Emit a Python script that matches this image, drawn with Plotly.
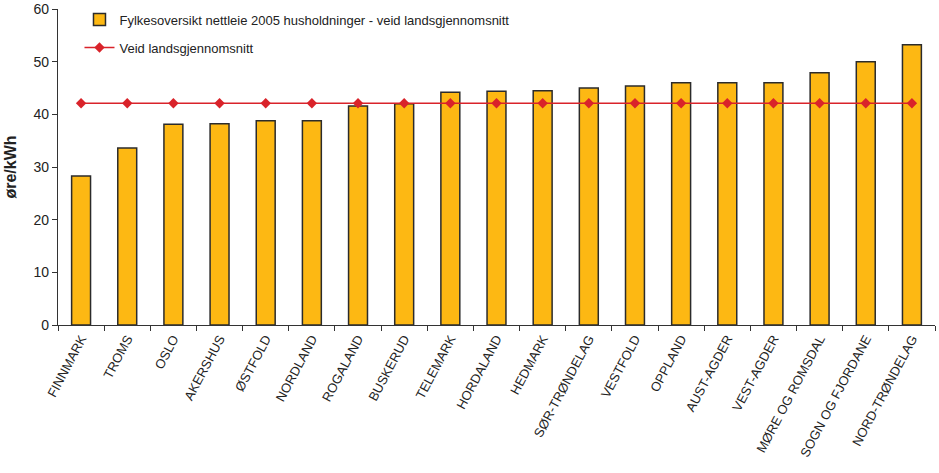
import plotly.graph_objects as go

categories = ["FINNMARK", "TROMS", "OSLO", "AKERSHUS", "ØSTFOLD", "NORDLAND", "ROGALAND",
              "BUSKERUD", "TELEMARK", "HORDALAND", "HEDMARK", "SØR-TRØNDELAG", "VESTFOLD",
              "OPPLAND", "AUST-AGDER", "VEST-AGDER", "MØRE OG ROMSDAL", "SOGN OG FJORDANE",
              "NORD-TRØNDELAG"]
nettleie = [28.3, 33.6, 38.1, 38.2, 38.8, 38.8, 41.6, 42.0, 44.2, 44.4, 44.5, 45.0, 45.4,
            46.0, 46.0, 46.0, 47.9, 50.0, 53.2]
snitt = [42.1] * len(categories)
y_ticks = [0, 10, 20, 30, 40, 50, 60]

fig = go.Figure()
fig.add_trace(go.Bar(
    x=categories, y=nettleie,
    name="Fylkesoversikt nettleie 2005 husholdninger - veid landsgjennomsnitt",
    legendgroup="a",
    marker=dict(color="#FDB813", line=dict(color="#2b2b2b", width=1.5)),
    width=0.41,
))
fig.add_trace(go.Scatter(
    x=categories, y=snitt, mode="lines+markers",
    name="Veid landsgjennomsnitt",
    legendgroup="b",
    line=dict(color="#D9232A", width=1.5),
    marker=dict(symbol="diamond", size=8, color="#D9232A"),
))

fig.update_layout(
    width=939, height=473,
    margin=dict(l=58, r=4, t=9, b=148, autoexpand=False),
    plot_bgcolor="white", paper_bgcolor="white",
    font=dict(family="Liberation Sans, Arial, sans-serif", color="#222"),
    showlegend=True,
    legend=dict(x=0.0245, y=1.014, xanchor="left", yanchor="top",
                bgcolor="rgba(0,0,0,0)", font=dict(size=13, color="#222"),
                tracegroupgap=8),
    bargap=0.59,
)
fig.update_yaxes(
    range=[0, 60], tickvals=y_ticks, showgrid=False, zeroline=False,
    showline=True, linecolor="#333", linewidth=1.2,
    ticks="outside", ticklen=5, tickcolor="#333", automargin=False,
    tickfont=dict(size=14, color="#222"),
    title=dict(text="<b>øre/kWh</b>", font=dict(size=16, color="#222"), standoff=12),
)
fig.update_xaxes(
    showgrid=False, showline=True, linecolor="#333", linewidth=1.2,
    ticks="outside", ticklen=5, tickcolor="#333", tickson="boundaries",
    tickangle=-62, tickfont=dict(size=13, color="#222"), automargin=False,
    range=[-0.5, len(categories) - 0.5],
)
fig.write_html("out.html", config={"displayModeBar": False},
               post_script="document.body.style.margin='0';")
